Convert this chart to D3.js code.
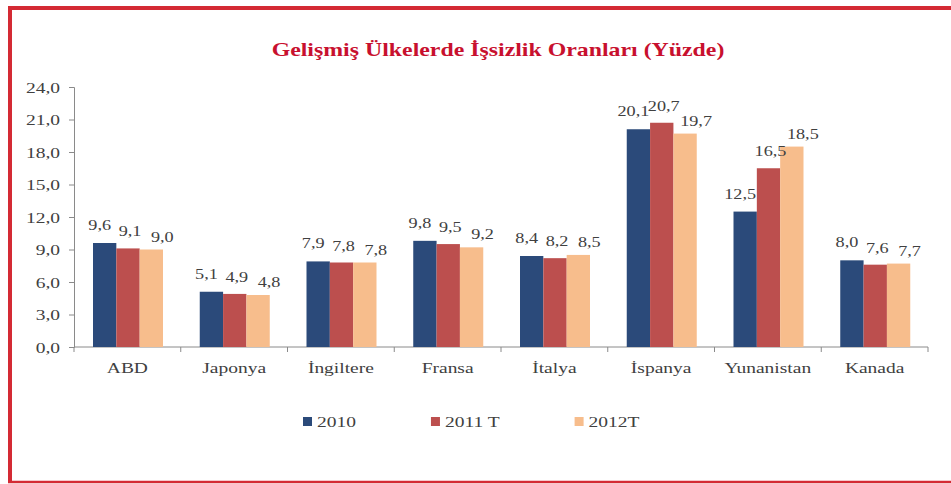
<!DOCTYPE html>
<html>
<head>
<meta charset="utf-8">
<script src="https://cdn.jsdelivr.net/npm/d3@7"></script>
<style>
    body { margin: 0; background: #fff; }
</style>
</head>
<body>
<script>

    // data
    const countries = ['ABD', 'Japonya', 'İngiltere', 'Fransa', 'İtalya', 'İspanya', 'Yunanistan', 'Kanada']
    const seriesNames = ['2010', '2011 T', '2012T']
    const v2010 = [9.6, 5.1, 7.9, 9.8, 8.4, 20.1, 12.5, 8.0]
    const v2011 = [9.1, 4.9, 7.8, 9.5, 8.2, 20.7, 16.5, 7.6]
    const v2012 = [9.0, 4.8, 7.8, 9.2, 8.5, 19.7, 18.5, 7.7]
    const yTicks = [0, 3, 6, 9, 12, 15, 18, 21, 24]

    const colors = ['#2b4a7a', '#bc4f4e', '#f7bd8c']
    const textCol = '#404040'
    const serif = "'Liberation Serif', 'Times New Roman', serif"
    const sx = 1.3 // picture is stretched sideways, so is the text

    const W = 951, H = 484
    const svg = d3.select('body').append('svg')
        .attr('width', W).attr('height', H)
        .attr('font-family', serif)

    // red frame (right side runs off the picture)
    svg.append('path')
        .attr('d', `M${W + 5},8 H10 V481`)
        .attr('fill', 'none')
        .attr('stroke', '#d42a34')
        .attr('stroke-width', 4)
    svg.append('line')
        .attr('x1', 8).attr('x2', W + 5)
        .attr('y1', 482).attr('y2', 482)
        .attr('stroke', '#d42a34')
        .attr('stroke-width', 2.5)

    const title = svg.append('text')
        .attr('text-anchor', 'middle')
        .attr('font-size', 19)
        .attr('font-weight', 'bold')
        .attr('fill', '#c8102e')
        .text('Gelişmiş Ülkelerde İşsizlik Oranları (Yüzde)')
    // fit the title to its width in the picture
    const tw = title.node().getComputedTextLength()
    title.attr('transform', `translate(498,56) scale(${453 / tw},1)`)

    const x0 = d3.scaleBand().domain(countries).range([74, 928])
    const x1 = d3.scaleBand().domain(seriesNames).range([19, 89])
    const y = d3.scaleLinear().domain([0, 24]).range([347, 87])

    const table = countries.map((c, i) => ({
        country: c,
        vals: [v2010[i], v2011[i], v2012[i]].map((v, j) => ({ s: seriesNames[j], j: j, v: v }))
    }))

    // y axis
    const yAxis = svg.append('g')
        .attr('transform', 'translate(74,0)')
        .call(d3.axisLeft(y).tickValues(yTicks).tickSize(5).tickPadding(0)
            .tickFormat(d => d3.format('.1f')(d).replace('.', ',')))
    yAxis.attr('font-family', serif)
    yAxis.select('.domain').attr('stroke', '#8a8a8a')
    yAxis.selectAll('.tick line').attr('stroke', '#8a8a8a')
    yAxis.selectAll('.tick text')
        .attr('x', null).attr('dy', null)
        .attr('transform', `translate(-14,5) scale(${sx},1)`)
        .attr('font-size', 15)
        .attr('fill', textCol)

    // x axis: line plus ticks on the band edges
    const xg = svg.append('g')
    xg.append('line')
        .attr('x1', x0.range()[0]).attr('x2', x0.range()[1])
        .attr('y1', y(0)).attr('y2', y(0))
        .attr('stroke', '#8a8a8a')
    const edges = countries.map(c => x0(c)).concat([x0.range()[1]])
    xg.selectAll('.xt').data(edges).enter().append('line')
        .attr('x1', d => d).attr('x2', d => d)
        .attr('y1', y(0)).attr('y2', y(0) + 5)
        .attr('stroke', '#8a8a8a')
    xg.selectAll('.xl').data(countries).enter().append('text')
        .attr('transform', d => `translate(${x0(d) + x0.bandwidth() / 2},373) scale(${sx},1)`)
        .attr('text-anchor', 'middle')
        .attr('font-size', 15)
        .attr('fill', textCol)
        .text(d => d)

    // bars
    const groups = svg.selectAll('.grp').data(table).enter().append('g')
        .attr('transform', d => `translate(${x0(d.country)},0)`)

    groups.selectAll('rect').data(d => d.vals).enter().append('rect')
        .attr('x', d => x1(d.s))
        .attr('width', x1.bandwidth())
        .attr('y', d => y(d.v))
        .attr('height', d => y(0) - y(d.v))
        .attr('fill', d => colors[d.j])

    // value labels, nudged per series like the original
    const labDx = [-5, 2, 11]
    const labDy = [-13, -12, -8]
    groups.selectAll('.val').data(d => d.vals).enter().append('text')
        .attr('transform', d => `translate(${x1(d.s) + x1.bandwidth() / 2 + labDx[d.j]},${y(d.v) + labDy[d.j]}) scale(${sx},1)`)
        .attr('text-anchor', 'middle')
        .attr('font-size', 14)
        .attr('fill', textCol)
        .text(d => d3.format('.1f')(d.v).replace('.', ','))

    // legend
    const leg = svg.append('g').attr('transform', 'translate(303,422)')
    let lx = 0
    seriesNames.forEach((s, i) => {
        const it = leg.append('g').attr('transform', `translate(${lx},0)`)
        it.append('rect').attr('x', 0).attr('y', -5).attr('width', 9).attr('height', 9).attr('fill', colors[i])
        const t = it.append('text')
            .attr('transform', `translate(14,5) scale(${sx},1)`)
            .attr('font-size', 15)
            .attr('fill', textCol)
            .text(s)
        lx += 14 + t.node().getComputedTextLength() * sx + 75
    })

</script>
</body>
</html>
